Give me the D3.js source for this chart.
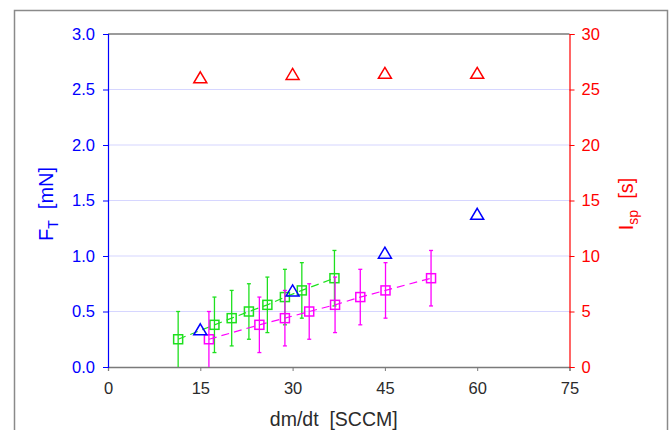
<!DOCTYPE html>
<html>
<head>
<meta charset="utf-8">
<script src="https://cdn.jsdelivr.net/npm/d3@7"></script>
<style>
  body { margin: 0; background: #fff; }
  svg { display: block; font-family: "Liberation Sans", Arial, Helvetica, sans-serif; }
</style>
</head>
<body>
<div id="chart"></div>
<script>
// Axis ticks
const xTicks = [0, 15, 30, 45, 60, 75];
const thrustTicks = [0, 0.5, 1.0, 1.5, 2.0, 2.5, 3.0];
const ispTicks = [0, 5, 10, 15, 20, 25, 30];

// Triangles: thrust (blue, left axis) and specific impulse (red, right axis)
const triFlow = [15, 30, 45, 60];
const triThrust = [0.34, 0.69, 1.03, 1.38];
const triIsp = [26.1, 26.4, 26.5, 26.5];

// Green series (squares, dashed line, error bars)
const greenFlow = [11.4, 17.3, 20.1, 22.9, 25.9, 28.75, 31.5, 36.8];
const greenThrust = [0.25, 0.38, 0.44, 0.50, 0.56, 0.63, 0.69, 0.80];
const greenErr = [0.25, 0.25, 0.25, 0.25, 0.25, 0.25, 0.25, 0.25];

// Magenta series
const magentaFlow = [16.4, 24.6, 28.75, 32.7, 36.9, 41.0, 45.1, 52.5];
const magentaThrust = [0.25, 0.38, 0.44, 0.50, 0.56, 0.63, 0.69, 0.80];
const magentaErr = [0.25, 0.25, 0.25, 0.25, 0.25, 0.25, 0.25, 0.25];

const width = 669, height = 430;
const pLeft = 108, pRight = 569.5, pTop = 34, pBottom = 367;

const blue = "#0000ff", red = "#ff0000", green = "#1ee01e", magenta = "#ff00ff", gray = "#7a7a7a";

const svg = d3.select("#chart").append("svg")
    .attr("width", width)
    .attr("height", height);

// outer frame
svg.append("rect")
    .attr("x", 14.5).attr("y", 10.5)
    .attr("width", 653).attr("height", 500)
    .attr("fill", "none")
    .attr("stroke", "#8a8a8a")
    .attr("stroke-width", 1.5);

const x = d3.scaleLinear().domain([0, 75]).range([pLeft, pRight]);
const yL = d3.scaleLinear().domain([0, 3]).range([pBottom, pTop]);
const yR = d3.scaleLinear().domain([0, 30]).range([pBottom, pTop]);

// gridlines
svg.append("g")
    .selectAll("line")
    .data(thrustTicks.slice(1, -1))
    .join("line")
    .attr("x1", pLeft).attr("x2", pRight)
    .attr("y1", d => yL(d)).attr("y2", d => yL(d))
    .attr("stroke", "#d6d6ff")
    .attr("stroke-width", 1.2);

// top line
svg.append("line")
    .attr("x1", pLeft).attr("x2", pRight)
    .attr("y1", pTop).attr("y2", pTop)
    .attr("stroke", gray).attr("stroke-width", 1.3);

// x axis
const xAxis = svg.append("g")
    .attr("transform", `translate(0,${pBottom})`)
    .call(d3.axisBottom(x).tickValues(xTicks).tickSize(4).tickPadding(11).tickFormat(d3.format("d")));
xAxis.select(".domain").attr("stroke", gray).attr("stroke-width", 1.3);
xAxis.selectAll(".tick line").attr("stroke", gray);
xAxis.selectAll("text").attr("fill", "#2b2b2b").style("font-size", "16.5px");

// left axis
const lAxis = svg.append("g")
    .attr("transform", `translate(${pLeft},0)`)
    .call(d3.axisLeft(yL).tickValues(thrustTicks).tickSize(5).tickPadding(8).tickFormat(d3.format(".1f")));
lAxis.select(".domain").attr("stroke", blue).attr("stroke-width", 1.2);
lAxis.selectAll(".tick line").attr("stroke", blue);
lAxis.selectAll("text").attr("fill", blue).style("font-size", "16.5px");

// right axis
const rAxis = svg.append("g")
    .attr("transform", `translate(${pRight},0)`)
    .call(d3.axisRight(yR).tickValues(ispTicks).tickSize(5).tickPadding(7).tickFormat(d3.format("d")));
rAxis.select(".domain").attr("stroke", red).attr("stroke-width", 1.2);
rAxis.selectAll(".tick line").attr("stroke", red);
rAxis.selectAll("text").attr("fill", red).style("font-size", "16.5px");

// axis labels
svg.append("text")
    .attr("x", (pLeft + pRight) / 2 - 5)
    .attr("y", 426)
    .attr("text-anchor", "middle")
    .attr("fill", "#2b2b2b")
    .style("font-size", "19.5px")
    .style("white-space", "pre")
    .text("dm/dt  [SCCM]");

const ft = svg.append("text")
    .attr("transform", "translate(53,204) rotate(-90)")
    .attr("text-anchor", "middle")
    .attr("fill", blue)
    .style("font-size", "20px")
    .style("white-space", "pre");
ft.append("tspan").text("F");
ft.append("tspan").attr("dy", 5).style("font-size", "14px").text("T");
ft.append("tspan").attr("dy", -5).text("  [mN]");

const ispLabel = svg.append("text")
    .attr("transform", "translate(633,204) rotate(-90)")
    .attr("text-anchor", "middle")
    .attr("fill", red)
    .style("font-size", "20px")
    .style("white-space", "pre");
ispLabel.append("tspan").text("I");
ispLabel.append("tspan").attr("dy", 5).style("font-size", "14px").text("sp");
ispLabel.append("tspan").attr("dy", -5).text("  [s]");

// series with error bars
function drawSeries(flow, thrust, err, color) {
    const pts = flow.map((f, i) => ({ f, t: thrust[i], e: err[i] }));
    const g = svg.append("g");
    g.append("path")
        .datum(pts)
        .attr("fill", "none")
        .attr("stroke", color)
        .attr("stroke-width", 1.2)
        .attr("stroke-dasharray", "8,5")
        .attr("d", d3.line().x(d => x(d.f)).y(d => yL(d.t)));
    const eb = g.selectAll(".eb").data(pts).join("g").attr("class", "eb");
    eb.append("line")
        .attr("x1", d => x(d.f)).attr("x2", d => x(d.f))
        .attr("y1", d => yL(Math.max(0, d.t - d.e))).attr("y2", d => yL(d.t + d.e))
        .attr("stroke", color).attr("stroke-width", 1.3);
    eb.append("line")
        .attr("x1", d => x(d.f) - 2).attr("x2", d => x(d.f) + 2)
        .attr("y1", d => yL(d.t + d.e)).attr("y2", d => yL(d.t + d.e))
        .attr("stroke", color).attr("stroke-width", 1.3);
    eb.filter(d => d.t - d.e > 0).append("line")
        .attr("x1", d => x(d.f) - 2).attr("x2", d => x(d.f) + 2)
        .attr("y1", d => yL(d.t - d.e)).attr("y2", d => yL(d.t - d.e))
        .attr("stroke", color).attr("stroke-width", 1.3);
    g.selectAll(".sq").data(pts).join("rect")
        .attr("class", "sq")
        .attr("x", d => x(d.f) - 4.5).attr("y", d => yL(d.t) - 4.5)
        .attr("width", 9).attr("height", 9)
        .attr("fill", "none")
        .attr("stroke", color).attr("stroke-width", 1.5);
}
drawSeries(greenFlow, greenThrust, greenErr, green);
drawSeries(magentaFlow, magentaThrust, magentaErr, magenta);

// triangles
const tri = "M0,-5.5L6.5,5.5L-6.5,5.5Z";
svg.append("g").selectAll("path")
    .data(triFlow.map((f, i) => ({ f, v: triThrust[i] })))
    .join("path")
    .attr("transform", d => `translate(${x(d.f)},${yL(d.v)})`)
    .attr("d", tri)
    .attr("fill", "none").attr("stroke", blue).attr("stroke-width", 1.5);
svg.append("g").selectAll("path")
    .data(triFlow.map((f, i) => ({ f, v: triIsp[i] })))
    .join("path")
    .attr("transform", d => `translate(${x(d.f)},${yR(d.v)})`)
    .attr("d", tri)
    .attr("fill", "none").attr("stroke", red).attr("stroke-width", 1.5);
</script>
</body>
</html>
